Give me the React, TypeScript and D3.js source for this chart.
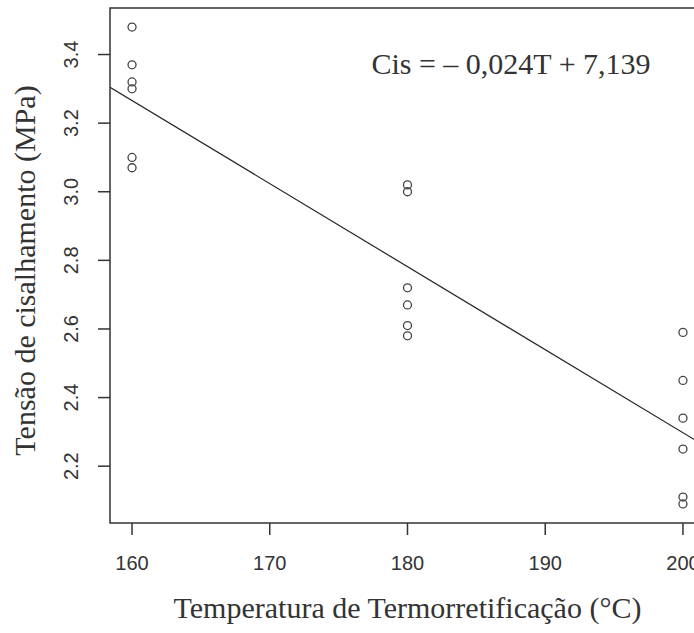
import { useMemo } from 'react'
import * as d3 from 'd3'

const W = 694
const H = 633
const PLOT = { left: 110, top: 8, right: 705, bottom: 523 }

const TEMPERATURES = [160, 180, 200]
const SHEAR_160 = [3.48, 3.37, 3.32, 3.30, 3.10, 3.07]
const SHEAR_180 = [3.02, 3.00, 2.72, 2.67, 2.61, 2.58]
const SHEAR_200 = [2.59, 2.45, 2.34, 2.25, 2.11, 2.09]
const X_TICKS = [160, 170, 180, 190, 200]
const Y_TICKS = [2.2, 2.4, 2.6, 2.8, 3.0, 3.2, 3.4]
const EQUATION = 'Cis = \u2013 0,024T + 7,139'

const TEXT = '#333'
const AXIS = '#333'
const SANS = "'Liberation Sans', Arial, sans-serif"
const SERIF = "'Liberation Serif', 'Times New Roman', serif"

export default function App() {
  const points = useMemo(() => {
    const groups = [SHEAR_160, SHEAR_180, SHEAR_200]
    return groups.flatMap((vals, i) => vals.map((v) => ({ t: TEMPERATURES[i], v })))
  }, [])

  // R-style 4% padding around the data range
  const xExt = d3.extent(points, (d) => d.t) as [number, number]
  const yExt = d3.extent(points, (d) => d.v) as [number, number]
  const xPad = (xExt[1] - xExt[0]) * 0.04
  const yPad = (yExt[1] - yExt[0]) * 0.04

  const x = d3.scaleLinear().domain([xExt[0] - xPad, xExt[1] + xPad]).range([PLOT.left, PLOT.right])
  const y = d3.scaleLinear().domain([yExt[0] - yPad, yExt[1] + yPad]).range([PLOT.bottom, PLOT.top])

  // least squares fit (abline(lm(...)))
  const mx = d3.mean(points, (d) => d.t) as number
  const my = d3.mean(points, (d) => d.v) as number
  const sxy = d3.sum(points, (d) => (d.t - mx) * (d.v - my))
  const sxx = d3.sum(points, (d) => (d.t - mx) ** 2)
  const slope = sxy / sxx
  const intercept = my - slope * mx
  const [d0, d1] = x.domain()
  const fitLine = d3.line<number>().x((t) => x(t)).y((t) => y(intercept + slope * t))([d0, d1])

  const midY = (PLOT.top + PLOT.bottom) / 2 + 5

  return (
    <svg width={W} height={H} style={{ position: 'absolute', left: 0, top: 0, background: '#fff' }}>
      <defs>
        <clipPath id="plot-clip">
          <rect x={PLOT.left} y={PLOT.top} width={PLOT.right - PLOT.left} height={PLOT.bottom - PLOT.top} />
        </clipPath>
      </defs>
      <rect width={W} height={H} fill="#fff" />

      {/* points */}
      {points.map((d, i) => (
        <circle key={i} cx={x(d.t)} cy={y(d.v)} r={4} fill="none" stroke="#444" strokeWidth={1.3} />
      ))}

      {/* regression line */}
      <path d={fitLine ?? ''} fill="none" stroke="#222" strokeWidth={1.2} clipPath="url(#plot-clip)" />

      {/* box */}
      <rect
        x={PLOT.left}
        y={PLOT.top}
        width={PLOT.right - PLOT.left}
        height={PLOT.bottom - PLOT.top}
        fill="none"
        stroke={AXIS}
        strokeWidth={1.5}
      />

      {/* x axis */}
      {X_TICKS.map((t) => (
        <g key={t}>
          <line x1={x(t)} x2={x(t)} y1={PLOT.bottom} y2={PLOT.bottom + 12} stroke={AXIS} strokeWidth={1.5} />
          <text x={x(t)} y={570} textAnchor="middle" fontFamily={SANS} fontSize={20} fill={TEXT}>
            {t}
          </text>
        </g>
      ))}

      {/* y axis */}
      {Y_TICKS.map((v) => (
        <g key={v}>
          <line x1={PLOT.left - 12} x2={PLOT.left} y1={y(v)} y2={y(v)} stroke={AXIS} strokeWidth={1.5} />
          <text
            transform={`translate(78,${y(v)}) rotate(-90)`}
            textAnchor="middle"
            fontFamily={SANS}
            fontSize={20}
            fill={TEXT}
          >
            {v.toFixed(1)}
          </text>
        </g>
      ))}

      {/* titles */}
      <text x={(PLOT.left + PLOT.right) / 2} y={618} textAnchor="middle" fontFamily={SERIF} fontSize={30} fill={TEXT}>
        Temperatura de Termorretificação (°C)
      </text>
      <text
        transform={`translate(35,${midY}) rotate(-90)`}
        textAnchor="middle"
        fontFamily={SERIF}
        fontSize={30}
        fill={TEXT}
      >
        Tensão de cisalhamento (MPa)
      </text>

      {/* equation */}
      <text x={511} y={74} textAnchor="middle" fontFamily={SERIF} fontSize={30} fill={TEXT}>
        {EQUATION}
      </text>
    </svg>
  )
}
